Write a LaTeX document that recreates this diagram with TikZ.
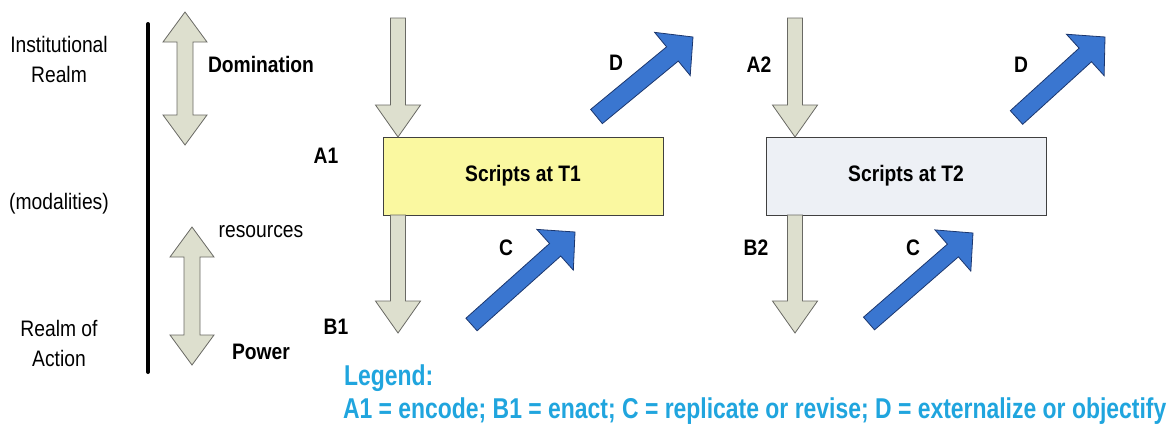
\documentclass[tikz,border=0pt]{standalone}
\usepackage{fontspec}
\setmainfont{Liberation Sans}[FakeStretch=0.86]
\newfontfamily\legendfont{Liberation Sans}[FakeStretch=0.80]
\usetikzlibrary{calc}

\definecolor{khaki}{RGB}{221,223,206}
\definecolor{khakiline}{RGB}{105,105,100}
\definecolor{arrowblue}{RGB}{58,118,208}
\definecolor{arrowblueline}{RGB}{28,55,110}
\definecolor{scriptyellow}{RGB}{250,248,160}
\definecolor{scriptgray}{RGB}{237,240,245}
\definecolor{legendblue}{RGB}{32,165,222}

% single block arrow: style, tail, tip, half shaft, half head, head length
\newcommand{\blockarrow}[6]{%
  \coordinate (hb) at ($(#3)!#6!(#2)$);
  \draw[#1] ($(#2)!#4!90:(#3)$) -- ($(hb)!#4!90:(#3)$) -- ($(hb)!#5!90:(#3)$)
    -- (#3) -- ($(hb)!#5!-90:(#3)$) -- ($(hb)!#4!-90:(#3)$)
    -- ($(#2)!#4!-90:(#3)$) -- cycle;}
% double block arrow: style, tip, tip, half shaft, half head, head length
\newcommand{\dblarrow}[6]{%
  \coordinate (hba) at ($(#2)!#6!(#3)$);
  \coordinate (hbb) at ($(#3)!#6!(#2)$);
  \draw[#1] (#2) -- ($(hba)!#5!90:(#3)$) -- ($(hba)!#4!90:(#3)$)
    -- ($(hbb)!#4!90:(#3)$) -- ($(hbb)!#5!90:(#3)$) -- (#3)
    -- ($(hbb)!#5!-90:(#3)$) -- ($(hbb)!#4!-90:(#3)$)
    -- ($(hba)!#4!-90:(#3)$) -- ($(hba)!#5!-90:(#3)$) -- cycle;}

\begin{document}
\begin{tikzpicture}[x=0.75pt,y=-0.75pt,
  every node/.style={inner sep=0pt,outer sep=0pt,font=\fontsize{16.8}{22.5}\selectfont},
  lbl/.style={font=\fontsize{16.8}{22.5}\selectfont\bfseries,anchor=base},
  plain/.style={font=\fontsize{16.8}{22.5}\selectfont,align=center},
  legend/.style={font=\legendfont\fontsize{21.5}{26}\selectfont\bfseries,anchor=base west,text=legendblue},
  grayarrow/.style={fill=khaki,draw=khakiline,line width=0.6pt,line join=miter},
  bluearrow/.style={fill=arrowblue,draw=arrowblueline,line width=0.6pt,line join=miter},
  scriptbox/.style={draw=black!75,line width=0.7pt,minimum width=210pt,minimum height=58.5pt,
    font=\fontsize{16.8}{22.5}\selectfont\bfseries}]

\useasboundingbox (0,0) rectangle (1174,430);

% realm labels and divider
\node[plain] (inst) at (59,59) {Institutional\\Realm};
\node[plain] (moda) at (59,204) {(modalities)};
\node[plain] (act) at (59,343) {Realm of\\Action};
\coordinate (divtop) at (148,24);
\coordinate (divbot) at (148,372);
\draw[line width=3pt,line cap=round] (divtop) -- (divbot);

% modality double arrows
\coordinate (domtop) at (185,12);
\coordinate (dombot) at (185,145);
\dblarrow{grayarrow}{domtop}{dombot}{6pt}{16.5pt}{22.5pt}
\coordinate (powtop) at (192,227);
\coordinate (powbot) at (192,365);
\dblarrow{grayarrow}{powtop}{powbot}{6pt}{16.5pt}{22.5pt}
\node[lbl] (dom) at (261,72) {Domination};
\node[lbl,font=\fontsize{16.8}{22.5}\selectfont] (res) at (261,237) {resources};
\node[lbl] (pow) at (261,359) {Power};

% scripts boxes
\node[scriptbox,fill=scriptyellow] (t1) at (523,176) {Scripts at T1};
\node[scriptbox,fill=scriptgray] (t2) at (906,176) {Scripts at T2};

% encode / enact arrows
\coordinate (a1s) at (398,18);
\coordinate (a1e) at (a1s |- t1.north);
\blockarrow{grayarrow}{a1s}{a1e}{5.6pt}{16.9pt}{24pt}
\coordinate (b1s) at (a1s |- t1.south);
\coordinate (b1e) at (398,333);
\blockarrow{grayarrow}{b1s}{b1e}{5.6pt}{16.9pt}{24pt}
\coordinate (a2s) at (795,18);
\coordinate (a2e) at (a2s |- t2.north);
\blockarrow{grayarrow}{a2s}{a2e}{5.6pt}{16.9pt}{24pt}
\coordinate (b2s) at (a2s |- t2.south);
\coordinate (b2e) at (795,333);
\blockarrow{grayarrow}{b2s}{b2e}{5.6pt}{16.9pt}{24pt}

% replicate / externalize arrows
\coordinate (d1s) at (596.5,116.5);
\coordinate (d1e) at (693,37);
\blockarrow{bluearrow}{d1s}{d1e}{6.9pt}{21pt}{20pt}
\coordinate (c1s) at (471.5,324.5);
\coordinate (c1e) at (575,232);
\blockarrow{bluearrow}{c1s}{c1e}{6.3pt}{20.5pt}{20pt}
\coordinate (d2s) at (1016.5,117.5);
\coordinate (d2e) at (1105,37);
\blockarrow{bluearrow}{d2s}{d2e}{6.9pt}{21pt}{20pt}
\coordinate (c2s) at (869,323.5);
\coordinate (c2e) at (973,233);
\blockarrow{bluearrow}{c2s}{c2e}{6.3pt}{20.5pt}{20pt}

% arrow labels
\node[lbl] (la1) at (326,163) {A1};
\node[lbl] (lb1) at (336,334) {B1};
\node[lbl] (ld1) at (616,70) {D};
\node[lbl] (lc1) at (506,255) {C};
\node[lbl] (la2) at (759,72) {A2};
\node[lbl] (lb2) at (756,255) {B2};
\node[lbl] (ld2) at (1021,72) {D};
\node[lbl] (lc2) at (913,255) {C};

% legend
\node[legend] (leg) at (344,385) {Legend:};
\node[legend] (legtext) at (343,418)
  {A1 = encode; B1 = enact; C = replicate or revise; D = externalize or objectify};
\end{tikzpicture}
\end{document}
